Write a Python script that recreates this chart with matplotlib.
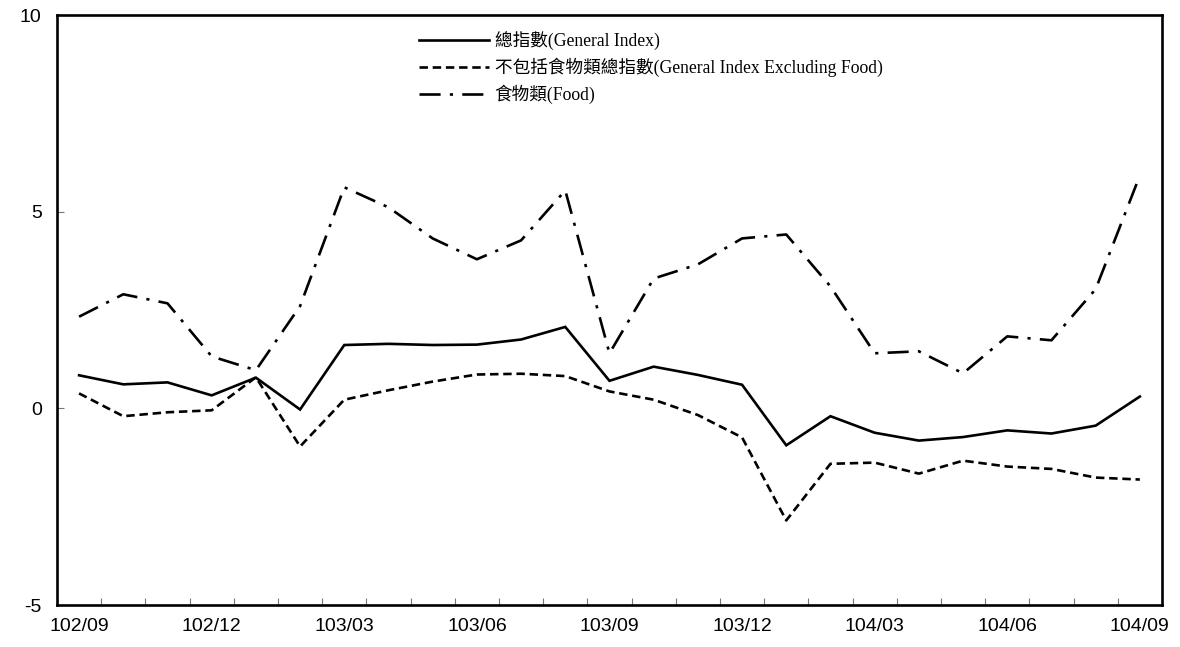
import matplotlib
matplotlib.use('Agg')
import matplotlib.pyplot as plt
import numpy as np

# months (ROC calendar), 102/09 .. 104/09
months = ['102/09', '102/10', '102/11', '102/12', '103/01', '103/02', '103/03',
          '103/04', '103/05', '103/06', '103/07', '103/08', '103/09', '103/10',
          '103/11', '103/12', '104/01', '104/02', '104/03', '104/04', '104/05',
          '104/06', '104/07', '104/08', '104/09']

general = [0.84, 0.61, 0.66, 0.33, 0.78, -0.03, 1.61, 1.64, 1.61, 1.62, 1.75,
           2.07, 0.70, 1.06, 0.85, 0.60, -0.94, -0.20, -0.62, -0.82, -0.73,
           -0.56, -0.64, -0.44, 0.30]
excl_food = [0.38, -0.20, -0.10, -0.05, 0.79, -0.97, 0.22, 0.46, 0.68, 0.86,
             0.88, 0.82, 0.43, 0.22, -0.17, -0.74, -2.85, -1.41, -1.38, -1.66,
             -1.33, -1.48, -1.54, -1.76, -1.81]
food = [2.33, 2.90, 2.67, 1.32, 0.97, 2.60, 5.62, 5.11, 4.32, 3.79, 4.27, 5.54,
        1.40, 3.30, 3.66, 4.32, 4.42, 3.10, 1.40, 1.45, 0.89, 1.83, 1.73, 3.03,
        5.92]

legend_labels = ['總指數(General Index)',
                 '不包括食物類總指數(General Index Excluding Food)',
                 '食物類(Food)']

fig = plt.figure(figsize=(11.8, 6.47), dpi=100)
ax = fig.add_axes([0.0483, 0.0649, 0.9364, 0.9119])

x = np.arange(len(months))
ax.plot(x, general, color='black', lw=1.9, solid_joinstyle='miter',
        label=legend_labels[0])
ax.plot(x, excl_food, color='black', lw=1.9, dashes=(3.2, 1.8),
        label=legend_labels[1])
ax.plot(x, food, color='black', lw=1.9, dashes=(8, 3.5, 1.2, 3.5),
        label=legend_labels[2])

ax.set_xlim(-0.5, len(months) - 0.5)
ax.set_ylim(-5, 10)
ax.set_yticks([-5, 0, 5, 10])
ax.set_yticklabels(['-5', '0', '5', '10'], family='Liberation Sans', fontsize=14)
ax.set_xticks(x[::3])
ax.set_xticklabels(months[::3], family='Liberation Sans', fontsize=14)
ax.set_xticks(np.arange(-0.5, len(months), 1), minor=True)
ax.tick_params(axis='x', which='major', length=0, pad=9)
ax.tick_params(axis='x', which='minor', direction='in', length=5, width=0.8,
               color='#777777')
ax.tick_params(axis='y', direction='in', length=5, width=0.8, color='#777777',
               pad=11)
for sp in ax.spines.values():
    sp.set_linewidth(1.9)

leg = ax.legend(loc='upper left', bbox_to_anchor=(0.313, 1.0), frameon=False,
                handlelength=4.0, handletextpad=0.3, labelspacing=0.45,
                prop={'family': ['Liberation Serif', 'Noto Sans CJK TC'],
                      'size': 12.7})

fig.savefig('out.png', dpi=100)
